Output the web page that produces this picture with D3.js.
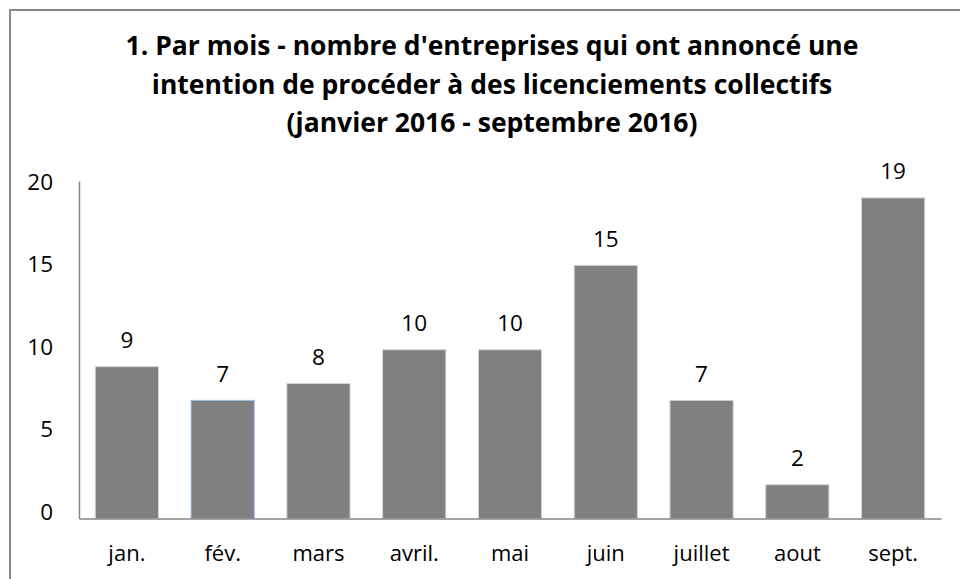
<!DOCTYPE html>
<meta charset="utf-8">
<script src="https://d3js.org/d3.v7.min.js"></script>
<style>
  body { margin: 0; background: #fff; }
  text { font-family: "Open Sans", Lato, sans-serif; fill: #000; }
</style>
<svg id="chart" width="960" height="579"></svg>
<script>

  // data
  var months = ["jan.", "fév.", "mars", "avril.", "mai", "juin", "juillet", "aout", "sept."];
  var counts = [9, 7, 8, 10, 10, 15, 7, 2, 19];
  var yTicks = [0, 5, 10, 15, 20];
  var titleLines = [
    "1. Par mois - nombre d'entreprises qui ont annoncé une",
    "intention de procéder à des licenciements collectifs",
    "(janvier 2016 - septembre 2016)"
  ];

  var svg = d3.select("#chart"),
      width = +svg.attr("width"),
      height = +svg.attr("height");

  var margin = {top: 181, right: 19, bottom: 60.5, left: 79};

  // chart frame
  svg.append("rect")
      .attr("x", 10).attr("y", 10)
      .attr("width", width).attr("height", height)
      .attr("fill", "none")
      .attr("stroke", "#878787")
      .attr("stroke-width", 2);

  // title
  svg.append("g")
      .selectAll("text")
      .data(titleLines)
      .enter()
      .append("text")
      .attr("x", 492)
      .attr("y", function (d, i) { return 55 + i * 38.5; })
      .attr("text-anchor", "middle")
      .attr("font-size", 26.5)
      .attr("font-weight", "bold")
      .text(function (d) { return d; });

  var x = d3.scaleBand()
      .domain(months)
      .range([margin.left, width - margin.right])
      .paddingInner(0.34)
      .paddingOuter(0.17);

  var y = d3.scaleLinear()
      .domain([0, 20])
      .range([height - margin.bottom, margin.top]);

  // y axis: line and labels only
  var yAxis = svg.append("g")
      .attr("transform", "translate(" + margin.left + ",0)")
      .call(d3.axisLeft(y).tickValues(yTicks).tickSize(0).tickPadding(26));
  yAxis.select(".domain").attr("stroke", "#868686").attr("stroke-width", 1.5);
  yAxis.selectAll("text")
      .attr("font-size", 22.5)
      .attr("font-family", "'Open Sans', sans-serif")
      .attr("dy", "0.36em")
      .attr("transform", function (d) { return "translate(0," + (-(20 - d) / 20 * 7) + ")"; });

  // bars
  svg.append("g")
      .selectAll("rect")
      .data(counts)
      .enter()
      .append("rect")
      .attr("x", function (d, i) { return x(months[i]); })
      .attr("y", function (d) { return y(d); })
      .attr("width", x.bandwidth())
      .attr("height", function (d) { return y(0) - y(d); })
      .attr("fill", "#808080")
      .attr("stroke", function (d, i) { return i === 1 ? "#a4bde3" : "#d4d4d4"; })
      .attr("stroke-width", 1);

  // value labels
  svg.append("g")
      .selectAll("text")
      .data(counts)
      .enter()
      .append("text")
      .attr("x", function (d, i) { return x(months[i]) + x.bandwidth() / 2; })
      .attr("y", function (d) { return y(d) - 18.5; })
      .attr("text-anchor", "middle")
      .attr("font-size", 22.5)
      .text(function (d) { return d; });

  // x axis
  var xAxis = svg.append("g")
      .attr("transform", "translate(0," + y(0) + ")")
      .call(d3.axisBottom(x).tickSize(0).tickPadding(27));
  xAxis.select(".domain").attr("stroke", "#868686").attr("stroke-width", 1.5);
  xAxis.selectAll("text")
      .attr("font-size", 22)
      .attr("font-family", "'Open Sans', sans-serif");

</script>
